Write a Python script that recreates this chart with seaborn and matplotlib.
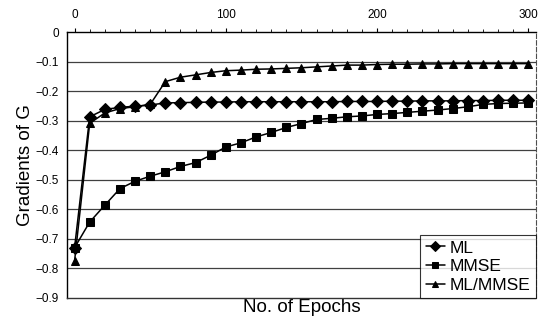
import numpy as np
import pandas as pd
import matplotlib
matplotlib.use("Agg")
import matplotlib.pyplot as plt
import seaborn as sns

# Gradient values, one point every 10 epochs
epochs = list(range(0, 301, 10))

ml = [-0.73, -0.287, -0.262, -0.255, -0.251, -0.247, -0.240, -0.239, -0.238, -0.237,
      -0.237, -0.236, -0.236, -0.236, -0.236, -0.236, -0.236, -0.236, -0.235, -0.235,
      -0.235, -0.234, -0.234, -0.233, -0.233, -0.233, -0.232, -0.232, -0.231, -0.231,
      -0.231]

mmse = [-0.73, -0.643, -0.586, -0.530, -0.505, -0.488, -0.473, -0.455, -0.442, -0.417,
        -0.389, -0.375, -0.355, -0.340, -0.323, -0.310, -0.296, -0.292, -0.287, -0.284,
        -0.279, -0.276, -0.272, -0.268, -0.264, -0.259, -0.253, -0.245, -0.242, -0.241,
        -0.240]

ml_mmse = [-0.775, -0.309, -0.274, -0.259, -0.253, -0.245, -0.168, -0.153, -0.145, -0.137,
           -0.131, -0.129, -0.126, -0.125, -0.123, -0.121, -0.118, -0.115, -0.112, -0.112,
           -0.110, -0.109, -0.109, -0.108, -0.108, -0.107, -0.107, -0.107, -0.107, -0.107,
           -0.107]

series_names = ["ML", "MMSE", "ML/MMSE"]
y_ticks = [0, -0.1, -0.2, -0.3, -0.4, -0.5, -0.6, -0.7, -0.8, -0.9]
x_ticks = [0, 100, 200, 300]

df = pd.DataFrame({
    "epoch": epochs * 3,
    "grad": ml + mmse + ml_mmse,
    "method": [n for n in series_names for _ in epochs],
})

sns.set_style("white")
plt.rcParams["font.family"] = ["Liberation Sans", "DejaVu Sans"]
plt.rcParams["text.color"] = "black"
plt.rcParams["axes.labelcolor"] = "black"
plt.rcParams["xtick.color"] = "black"
plt.rcParams["ytick.color"] = "black"

fig = plt.figure(figsize=(5.51, 3.21), dpi=100)
ax = fig.add_axes([0.1216, 0.0717, 0.851, 0.8286])

# horizontal grid lines at every 0.1
for yv in y_ticks[1:-1]:
    ax.axhline(yv, color="0.25", lw=0.9, zorder=0)

sns.lineplot(data=df, x="epoch", y="grad", hue="method", style="method",
             markers={"ML": "D", "MMSE": "s", "ML/MMSE": "^"},
             dashes=False, palette=["black"] * 3, markersize=6,
             linewidth=1.1, markeredgecolor="black", ax=ax)

ax.set_xlim(-5, 305)
ax.set_ylim(-0.9, 0)
ax.set_yticks(y_ticks)
ax.set_yticklabels(["0"] + [f"\u2212{abs(v):.1f}" for v in y_ticks[1:]], fontsize=8.5)

ax.xaxis.tick_top()
ax.set_xticks(x_ticks)
ax.set_xticklabels([str(v) for v in x_ticks], fontsize=8.5)
ax.set_xticks(list(range(0, 301, 10)), minor=True)
ax.tick_params(axis="x", which="major", direction="out", length=3, width=0.8, pad=5)
ax.tick_params(axis="x", which="minor", direction="out", length=2, width=0.6)
ax.tick_params(axis="y", direction="out", length=0, pad=6)

for side in ["left", "top"]:
    ax.spines[side].set_color("black")
    ax.spines[side].set_linewidth(1.0)
ax.spines["right"].set_color("0.3")
ax.spines["right"].set_linestyle((0, (4, 2)))
ax.spines["right"].set_linewidth(0.8)
ax.spines["bottom"].set_color("0.2")
ax.spines["bottom"].set_linestyle((0, (1, 1)))
ax.spines["bottom"].set_linewidth(1.0)

ax.set_xlabel("No. of Epochs", fontsize=13.5)
ax.xaxis.set_label_position("bottom")
ax.xaxis.labelpad = 1
ax.set_ylabel("Gradients of G", fontsize=13.5, labelpad=1)

handles, labels = ax.get_legend_handles_labels()
leg = ax.legend(handles, labels, loc="lower right", fontsize=12.5, frameon=True,
                fancybox=False, edgecolor="black", handlelength=1.1,
                handletextpad=0.3, borderpad=0.3, labelspacing=0.2,
                borderaxespad=0.0, markerscale=0.8)
leg.get_frame().set_linewidth(0.8)

fig.savefig("out.png", dpi=100)
